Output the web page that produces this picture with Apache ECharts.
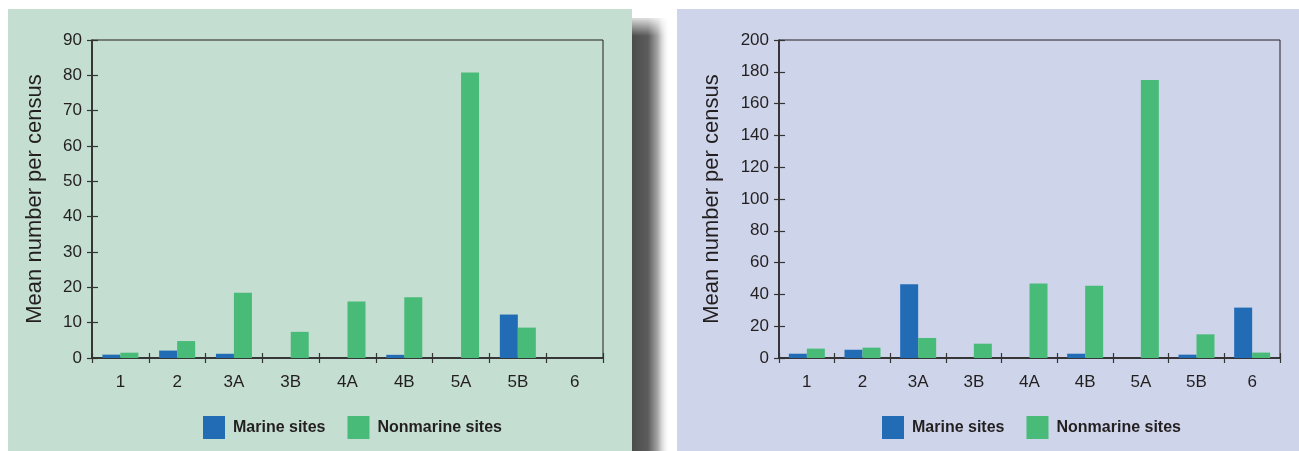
<!DOCTYPE html>
<html><head><meta charset="utf-8">
<script src="https://cdn.jsdelivr.net/npm/echarts@6/dist/echarts.min.js"></script>
<style>html,body{margin:0;padding:0;background:#fff}#c{width:1299px;height:451px}</style>
</head><body><div id="c"></div>
<script>
const categories = ['1','2','3A','3B','4A','4B','5A','5B','6'];
// Left panel
const leftMarine    = [0.95, 2.1, 1.2, 0, 0, 0.9, 0, 12.3, 0];
const leftNonmarine = [1.5, 4.8, 18.5, 7.4, 16.0, 17.2, 80.8, 8.6, 0];
// Right panel
const rightMarine    = [2.7, 5.2, 46.4, 0, 0, 2.7, 0, 2.1, 31.7];
const rightNonmarine = [5.9, 6.5, 12.6, 9.0, 46.8, 45.5, 174.8, 14.9, 3.4];
const seriesNames = ['Marine sites', 'Nonmarine sites'];
const yTitle = 'Mean number per census';

const ink = '#231f20';
const blue = '#226cb6';
const green = '#49bb79';
const FONT = '"Liberation Sans", Arial, sans-serif';

function yAxes(gridIndex, max, interval){
  return [
    {type:'value', gridIndex, min:0, max, interval, position:'left',
     name: yTitle, nameLocation:'middle', nameGap: 0,
     nameTextStyle:{fontFamily:FONT, fontSize:22, color:ink},
     axisLine:{show:true, lineStyle:{color:ink, width:1.5}},
     axisTick:{show:true, length:5, lineStyle:{color:'#333', width:1.2}},
     axisLabel:{fontFamily:FONT, fontSize:17, color:ink, margin:10},
     splitLine:{show:false}},
    {type:'value', gridIndex, min:0, max, interval, position:'left',
     axisLine:{show:false},
     axisTick:{show:true, inside:true, length:6, lineStyle:{color:'#333', width:1.2}},
     axisLabel:{show:false}, splitLine:{show:false}}
  ];
}
function xAxes(gridIndex){
  return [
    {type:'category', gridIndex, data:categories, position:'bottom',
     axisLine:{show:true, lineStyle:{color:ink, width:1.5}},
     axisTick:{show:true, length:5, lineStyle:{color:'#333', width:1.2}},
     axisLabel:{fontFamily:FONT, fontSize:17, color:ink, margin:16}},
    {type:'category', gridIndex, data:categories, position:'bottom',
     axisLine:{show:false},
     axisTick:{show:true, inside:true, length:5, lineStyle:{color:'#333', width:1.2}},
     axisLabel:{show:false}}
  ];
}
function bars(name, data, color, xi, yi){
  return {type:'bar', name, data, xAxisIndex:xi, yAxisIndex:yi,
    barWidth:18, barGap:'0%',
    itemStyle:{color, borderWidth:0},
    emphasis:{disabled:true}, animation:false};
}

const ya = yAxes(0, 90, 10).concat(yAxes(1, 200, 20));
ya[0].nameGap = 46; ya[2].nameGap = 56;

const legendStyle = {fontFamily:FONT, fontSize:16, fontWeight:'bold', color:ink, padding:[0,0,0,3]};

const option = {
  animation:false,
  backgroundColor:'#ffffff',
  graphic:[
    {type:'rect', z:-10, shape:{x:630, y:18, width:40, height:440},
     style:{fill:{type:'linear', x:0, y:0, x2:1, y2:0, colorStops:[
       {offset:0, color:'#4a4a4a'}, {offset:0.45, color:'#5c5c5c'},
       {offset:0.7, color:'#a9a9a9'}, {offset:1, color:'rgba(255,255,255,0)'}]}}},
    {type:'rect', z:-9, shape:{x:630, y:14, width:40, height:22},
     style:{fill:{type:'linear', x:0, y:0, x2:0, y2:1, colorStops:[
       {offset:0, color:'#ffffff'}, {offset:1, color:'rgba(255,255,255,0)'}]}}},
    {type:'rect', z:-8, shape:{x:8, y:9, width:624, height:450}, style:{fill:'#c4ded1'}},
    {type:'rect', z:-8, shape:{x:677, y:9, width:630, height:450}, style:{fill:'#ced5ea'}}
  ],
  grid:[
    {left:92, top:40, right:696, bottom:93, show:true, borderColor:ink, borderWidth:1, backgroundColor:'transparent'},
    {left:779, top:40, right:19, bottom:93, show:true, borderColor:ink, borderWidth:1, backgroundColor:'transparent'}
  ],
  xAxis: xAxes(0).concat(xAxes(1)),
  yAxis: ya,
  legend:[
    {left:203, top:416, padding:0, itemWidth:22, itemHeight:23, itemGap:22, icon:'rect',
     data:seriesNames, selectedMode:false, textStyle:legendStyle},
    {left:882, top:416, padding:0, itemWidth:22, itemHeight:23, itemGap:22, icon:'rect',
     data:seriesNames, selectedMode:false, textStyle:legendStyle}
  ],
  series:[
    bars(seriesNames[0], leftMarine, blue, 0, 0),
    bars(seriesNames[1], leftNonmarine, green, 0, 0),
    bars(seriesNames[0], rightMarine, blue, 2, 2),
    bars(seriesNames[1], rightNonmarine, green, 2, 2)
  ]
};
const chart = echarts.init(document.getElementById('c'), null, {renderer:'canvas'});
chart.setOption(option);
</script></body></html>
